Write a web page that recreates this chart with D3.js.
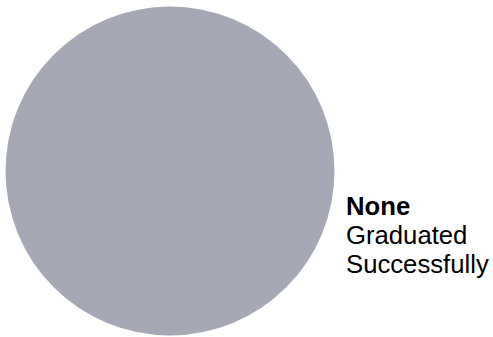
<!DOCTYPE html>
<html>
<head>
<meta charset="utf-8">
<script src="https://cdn.jsdelivr.net/npm/d3@7"></script>
<style>
  body { margin: 0; background: #fff; }
  svg { display: block; }
</style>
</head>
<body>
<script>
// one slice pie, all students in the same group
const categories = ['None'];
const values = [1];
const labelLines = ['Graduated', 'Successfully'];
const colors = ['#a6a8b5'];

const width = 493, height = 337;
const cx = 170, cy = 171, radius = 164.5;

const svg = d3.select('body').append('svg')
    .attr('width', width)
    .attr('height', height);

const pie = d3.pie().sort(null).value(d => d.value);
const arc = d3.arc().innerRadius(0).outerRadius(radius);

const data = categories.map((c, i) => ({name: c, value: values[i]}));
const color = d3.scaleOrdinal().domain(categories).range(colors);

svg.append('g')
    .attr('transform', `translate(${cx},${cy})`)
    .selectAll('path')
    .data(pie(data))
    .join('path')
    .attr('d', arc)
    .attr('fill', d => color(d.data.name));

const label = svg.append('text')
    .attr('x', 346)
    .attr('y', 215)
    .style('font-family', 'Liberation Sans, Arial, sans-serif')
    .style('font-size', '25.7px')
    .attr('fill', '#000');

label.append('tspan')
    .attr('x', 346)
    .style('font-weight', 'bold')
    .text(categories[0]);

labelLines.forEach(line => {
    label.append('tspan')
        .attr('x', 346)
        .attr('dy', 29)
        .text(line);
});
</script>
</body>
</html>
